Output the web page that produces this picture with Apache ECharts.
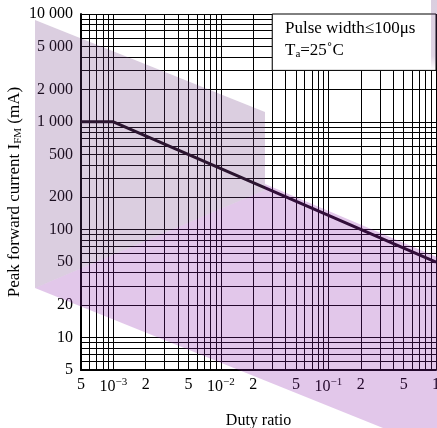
<!DOCTYPE html>
<html>
<head>
<meta charset="utf-8">
<script src="https://cdn.jsdelivr.net/npm/echarts@6/dist/echarts.min.js"></script>
<style>
  html, body { margin: 0; padding: 0; background: #fff; }
  #chart { width: 437px; height: 428px; }
</style>
</head>
<body>
<div id="chart"></div>
<script>
// Derating curve: pulse current limit vs. duty ratio
const dutyRatio = [0.0005, 0.001, 1];
const peakCurrent = [1000, 1000, 50];

// Log grid lines (1..9 per decade)
const xGridValues = [
  0.0005, 0.0006, 0.0007, 0.0008, 0.0009,
  0.001, 0.002, 0.003, 0.004, 0.005, 0.006, 0.007, 0.008, 0.009,
  0.01, 0.02, 0.03, 0.04, 0.05, 0.06, 0.07, 0.08, 0.09,
  0.1, 0.2, 0.3, 0.4, 0.5, 0.6, 0.7, 0.8, 0.9, 1
];
const yGridValues = [
  5, 6, 7, 8, 9,
  10, 20, 30, 40, 50, 60, 70, 80, 90,
  100, 200, 300, 400, 500, 600, 700, 800, 900,
  1000, 2000, 3000, 4000, 5000, 6000, 7000, 8000, 9000, 10000
];

// Labelled ticks
const xLabelValues = [0.0005, 0.001, 0.002, 0.005, 0.01, 0.02, 0.05, 0.1, 0.2, 0.5, 1];
const xLabelTexts = ['5', '10|−3', '2', '5', '10|−2', '2', '5', '10|−1', '2', '5', '1'];
const yLabelValues = [5, 10, 20, 50, 100, 200, 500, 1000, 2000, 5000, 10000];

// Condition box corners (duty ratio, current)
const noteBoxFrom = [0.03, 3000];
const noteBoxTo = [1, 10000];

const SERIF = '"Liberation Serif", "DejaVu Serif", serif';

function xLabel(v) {
  for (let i = 0; i < xLabelValues.length; i++) {
    if (Math.abs(Math.log10(v) - Math.log10(xLabelValues[i])) < 1e-6) {
      const t = xLabelTexts[i];
      if (t.indexOf('|') >= 0) {
        const p = t.split('|');
        return '{n|' + p[0] + '}{s|' + p[1] + '}';
      }
      return '{n|' + t + '}';
    }
  }
  return '';
}

function yLabel(v) {
  return String(Math.round(v)).replace(/\B(?=(\d{3})+(?!\d))/g, ' ');
}

const chart = echarts.init(document.getElementById('chart'), null, { renderer: 'canvas' });

chart.setOption({
  animation: false,
  backgroundColor: '#fff',
  grid: { left: 81, right: 1, top: 14, bottom: 58, containLabel: false, outerBoundsMode: 'none' },
  xAxis: {
    type: 'log',
    logBase: 10,
    min: 0.0005,
    max: 1,
    name: 'Duty ratio',
    nameLocation: 'middle',
    nameGap: 43,
    nameMoveOverlap: false,
    nameTextStyle: { fontFamily: SERIF, fontSize: 16, color: '#000' },
    axisLine: { show: true, onZero: false, lineStyle: { color: '#000', width: 2 } },
    axisTick: { show: false, customValues: xGridValues },
    splitLine: { show: true, showMinLine: true, showMaxLine: true, lineStyle: { color: '#000', width: 1 } },
    minorTick: { show: false },
    axisLabel: {
      customValues: xLabelValues,
      margin: 7,
      hideOverlap: false,
      formatter: xLabel,
      rich: {
        n: { fontFamily: SERIF, fontSize: 16, color: '#000' },
        s: { fontFamily: SERIF, fontSize: 11, color: '#000', padding: [0, 0, 8, 0] }
      }
    }
  },
  yAxis: {
    type: 'log',
    logBase: 10,
    min: 5,
    max: 10000,
    name: '{t|Peak forward current I}{u|FM}{t| (mA)}',
    nameLocation: 'middle',
    nameGap: 57,
    nameMoveOverlap: false,
    nameTextStyle: {
      rich: {
        t: { fontFamily: SERIF, fontSize: 17, color: '#000' },
        u: { fontFamily: SERIF, fontSize: 11, color: '#000', padding: [7, 0, 0, 0] }
      }
    },
    axisLine: { show: true, onZero: false, lineStyle: { color: '#000', width: 2 } },
    axisTick: { show: false, customValues: yGridValues },
    splitLine: { show: true, showMinLine: true, showMaxLine: true, lineStyle: { color: '#000', width: 1 } },
    minorTick: { show: false },
    axisLabel: {
      customValues: yLabelValues,
      margin: 8,
      hideOverlap: false,
      formatter: yLabel,
      fontFamily: SERIF,
      fontSize: 16,
      color: '#000'
    }
  },
  series: [
    {
      // white note panel in the upper-right corner
      type: 'line',
      data: [],
      z: 3,
      silent: true,
      markArea: {
        silent: true,
        itemStyle: { color: '#fff', borderColor: '#000', borderWidth: 1 },
        label: { show: false },
        data: [[{ coord: noteBoxFrom }, { coord: noteBoxTo }]]
      }
    },
    {
      type: 'line',
      data: dutyRatio.map((d, i) => [d, peakCurrent[i]]),
      showSymbol: false,
      symbol: 'none',
      z: 5,
      lineStyle: { color: '#140814', width: 3 },
      silent: true
    }
  ],
  graphic: [
    {
      type: 'text',
      left: 285,
      top: 20,
      z: 50,
      style: {
        text: 'Pulse width≤100μs',
        fontFamily: SERIF,
        fontSize: 17,
        fill: '#000'
      }
    },
    {
      type: 'text',
      left: 285,
      top: 42,
      z: 50,
      style: {
        text: '{t|T}{u|a}{t|=25˚C}',
        rich: {
          t: { fontFamily: SERIF, fontSize: 17, fill: '#000', color: '#000' },
          u: { fontFamily: SERIF, fontSize: 11, fill: '#000', color: '#000', padding: [7, 0, 0, 0] }
        }
      }
    },
    // translucent background stripes
    {
      type: 'polygon',
      z: 100,
      silent: true,
      shape: { points: [[35, 20], [265, 112], [265, 190], [35, 288]] },
      style: { fill: 'rgba(110,60,130,0.25)' }
    },
    {
      type: 'polygon',
      z: 100,
      silent: true,
      shape: { points: [[35, 288], [265, 190], [265, 184], [437, 257], [437, 428], [383, 428]] },
      style: { fill: 'rgba(140,30,170,0.25)' }
    },
    {
      type: 'rect',
      z: 100,
      silent: true,
      shape: { x: 431, y: 0, width: 6, height: 70 },
      style: {
        fill: new echarts.graphic.LinearGradient(0, 0, 0, 1, [
          { offset: 0, color: 'rgba(110,60,130,0.25)' },
          { offset: 0.8, color: 'rgba(110,60,130,0.22)' },
          { offset: 1, color: 'rgba(110,60,130,0)' }
        ])
      }
    }
  ]
});
</script>
</body>
</html>
